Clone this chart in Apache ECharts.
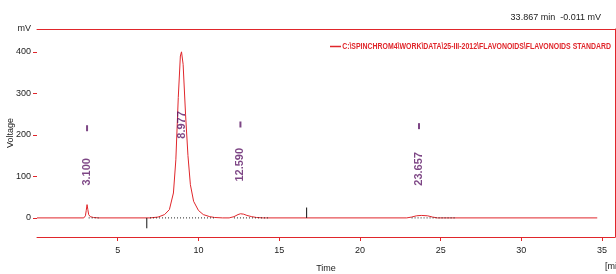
<!DOCTYPE html>
<html>
<head>
<meta charset="utf-8">
<script src="https://cdn.jsdelivr.net/npm/echarts@6/dist/echarts.min.js"></script>
<style>
  html, body { margin: 0; padding: 0; background: #fff; }
  #main { width: 616px; height: 274px; }
</style>
</head>
<body>
<div id="main"></div>
<script>
// chromatogram trace, time (min) / voltage (mV)
var traceTime = [0, 2.9, 3.0, 3.05, 3.1, 3.15, 3.2, 3.3, 3.5, 3.8,
  7.0, 7.5, 7.9, 8.2, 8.45, 8.6, 8.75, 8.88, 8.95, 9.05, 9.2, 9.35, 9.5, 9.7, 10.0, 10.3, 10.7, 11.0, 11.5,
  11.9, 12.2, 12.45, 12.6, 12.8, 13.0, 13.3, 13.6, 14.0,
  22.9, 23.2, 23.5, 23.8, 24.2, 24.5, 24.8, 34.7];
var traceMv = [0, 0, 5, 18, 32, 20, 8, 3, 1, 0,
  0, 2, 8, 20, 60, 140, 290, 390, 400, 370, 250, 150, 80, 40, 18, 8, 3, 1, 0,
  0, 3, 8, 10, 9, 6, 3, 1, 0,
  0, 2, 5, 6, 5, 2, 0, 0];

var peakTimes = [3.1, 8.95, 12.6, 23.66];
var peakNames = ["3.100", "8.977", "12.590", "23.657"];
var peakLabelMv = [111, 224, 128, 118];
var peakMarkMv = [216, 0, 225, 221];

// integration baselines (start, end) in min
var baseStart = [3.2, 7.0, 12.2, 23.2];
var baseEnd = [3.9, 11.0, 14.3, 25.9];
// event marks: time, end level (mV)
var markTime = [6.8, 16.7];
var markEnd = [-25, 25];

var yTicks = [0, 100, 200, 300, 400];
var xTicks = [5, 10, 15, 20, 25, 30, 35];

var traceName = "C:\\SPINCHROM4\\WORK\\DATA\\25-III-2012\\FLAVONOIDS\\FLAVONOIDS STANDARD";
var red = "#e0262b";
var purple = "#5c1866";
var font = "Liberation Sans";

document.addEventListener("DOMContentLoaded", function () {
  var chart = echarts.init(document.getElementById("main"));

  var trace = traceTime.map(function (t, i) { return [t, traceMv[i]]; });

  var series = [
    {
      name: traceName,
      type: "line",
      data: trace,
      symbol: "none",
      lineStyle: { color: red, width: 1 },
      itemStyle: { color: red },
      z: 3,
    },
    {
      type: "scatter",
      data: peakTimes.map(function (t, i) { return [t, peakLabelMv[i], peakNames[i]]; }),
      symbolSize: 0,
      label: {
        show: true,
        position: "inside",
        rotate: 90,
        color: purple,
        fontFamily: font,
        fontWeight: "bold",
        fontSize: 11,
        formatter: function (p) { return p.value[2]; },
      },
      silent: true,
      z: 5,
    },
    {
      type: "scatter",
      data: peakTimes
        .map(function (t, i) { return [t, peakMarkMv[i]]; })
        .filter(function (d) { return d[1] > 0; }),
      symbol: "rect",
      symbolSize: [2, 6],
      itemStyle: { color: purple },
      silent: true,
    },
  ];

  baseStart.forEach(function (s, i) {
    series.push({
      type: "line",
      data: [[s, 0], [baseEnd[i], 0]],
      symbol: "none",
      lineStyle: { color: "#222", width: 1, type: [1, 2] },
      silent: true,
      z: 4,
    });
  });

  markTime.forEach(function (t, i) {
    series.push({
      type: "line",
      data: [[t, 0], [t, markEnd[i]]],
      symbol: "none",
      lineStyle: { color: "#111", width: 1 },
      silent: true,
    });
  });

  var smallText = { fontFamily: font, fontSize: 9, fontWeight: "normal", color: "#222" };

  var option = {
    animation: false,
    title: [
      { text: "33.867 min  -0.011 mV", right: 10, top: 8, textStyle: smallText },
      { text: "[min]", left: 600, top: 257, textStyle: smallText },
    ],
    // legend drawn by hand so the long path can be squeezed like the original
    graphic: [
      {
        type: "line",
        shape: { x1: 330, y1: 46.5, x2: 341, y2: 46.5 },
        style: { stroke: red, lineWidth: 1.5 },
      },
      {
        type: "text",
        x: 611,
        y: 46.5,
        scaleX: 0.77,
        style: {
          text: traceName,
          fill: red,
          font: "bold 9px 'Liberation Sans'",
          align: "right",
          verticalAlign: "middle",
        },
      },
    ],
    grid: { left: 37, right: 1, top: 29, bottom: 37, outerBoundsMode: "none" },
    xAxis: [
      {
        type: "value",
        min: 0,
        max: 35.8,
        name: "Time",
        nameLocation: "middle",
        nameGap: 27,
        nameMoveOverlap: false,
        nameTextStyle: smallText,
        splitLine: { show: false },
        axisLine: { onZero: false, lineStyle: { color: red, width: 1 } },
        axisTick: { customValues: xTicks, length: 4, lineStyle: { color: red } },
        axisLabel: { customValues: xTicks, margin: 9, fontFamily: font, fontSize: 9, color: "#222" },
      },
      {
        type: "value",
        position: "top",
        min: 0,
        max: 35.8,
        splitLine: { show: false },
        axisLine: { onZero: false, lineStyle: { color: red, width: 1 } },
        axisTick: { show: false },
        axisLabel: { show: false },
      },
    ],
    yAxis: [
      {
        type: "value",
        min: -46,
        max: 455,
        name: "Voltage",
        nameLocation: "middle",
        nameGap: 22,
        nameMoveOverlap: false,
        nameTextStyle: smallText,
        splitLine: { show: false },
        axisLine: { show: false, onZero: false },
        axisTick: { show: true, customValues: yTicks, length: 4, lineStyle: { color: red } },
        axisLabel: {
          customValues: yTicks.concat([455]),
          margin: 6,
          fontFamily: font,
          fontSize: 9,
          color: "#222",
          formatter: function (v) { return v === 455 ? "mV" : String(v); },
        },
      },
      {
        type: "value",
        position: "right",
        min: -46,
        max: 455,
        splitLine: { show: false },
        axisLine: { show: true, onZero: false, lineStyle: { color: red, width: 1 } },
        axisTick: { show: false },
        axisLabel: { show: false },
      },
    ],
    series: series,
  };

  chart.setOption(option);
});
</script>
</body>
</html>
